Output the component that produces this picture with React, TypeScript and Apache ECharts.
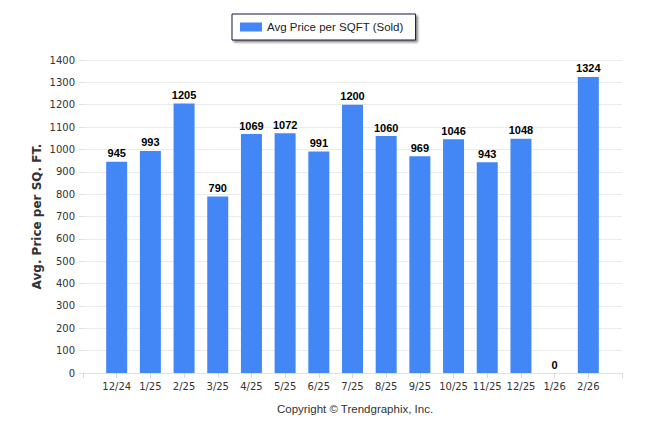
import React, { useEffect, useRef } from "react";
import * as echarts from "echarts";

const categories = ["12/24", "1/25", "2/25", "3/25", "4/25", "5/25", "6/25", "7/25", "8/25", "9/25", "10/25", "11/25", "12/25", "1/26", "2/26"];
const values = [945, 993, 1205, 790, 1069, 1072, 991, 1200, 1060, 969, 1046, 943, 1048, 0, 1324];
const seriesName = "Avg Price per SQFT (Sold)";
const yTitle = "Avg. Price per SQ. FT.";
const copyright = "Copyright \u00A9 Trendgraphix, Inc.";

export default function App() {
  const ref = useRef<HTMLDivElement>(null);
  useEffect(() => {
    document.body.style.margin = "0";
    const chart = echarts.init(ref.current!, null, { renderer: "svg" });
    const cats = ["", ...categories, ""];
    const data = [null, ...values, null];
    chart.setOption({
      animation: false,
      backgroundColor: "#fff",
      legend: {
        left: 232,
        top: 14,
        itemWidth: 22,
        itemHeight: 9,
        itemGap: 6,
        padding: [7, 12, 7, 8],
        borderColor: "#1a1a3a",
        borderWidth: 1,
        shadowColor: "rgba(0,0,0,0.45)",
        shadowOffsetX: 2,
        shadowOffsetY: 2,
        shadowBlur: 2,
        backgroundColor: "#fff",
        textStyle: { fontFamily: "Liberation Sans, Arial", fontSize: 11.5, color: "#222" },
        data: [{ name: seriesName, icon: "rect" }],
      },
      grid: { left: 83, right: 24, top: 60, bottom: 61 },
      xAxis: {
        type: "category",
        data: cats,
        boundaryGap: false,
        axisLine: { lineStyle: { color: "#e0e0e0" } },
        axisTick: { show: true, alignWithLabel: true, lineStyle: { color: "#d8d8d8" }, length: 5 },
        axisLabel: { color: "#333", fontFamily: "DejaVu Sans, Tahoma", fontSize: 10, margin: 8, interval: 0 },
      },
      yAxis: {
        type: "value",
        min: 0,
        max: 1400,
        interval: 100,
        name: yTitle,
        nameLocation: "middle",
        nameGap: 40,
        nameMoveOverlap: false,
        nameTextStyle: { fontFamily: "DejaVu Sans", fontWeight: "bold", fontSize: 12, color: "#333" },
        axisLine: { show: false },
        axisTick: { show: true, lineStyle: { color: "#e0e0e0" }, length: 4 },
        axisLabel: {
          color: "#333",
          fontFamily: "DejaVu Sans, Tahoma",
          fontSize: 10,
          margin: 8,
          formatter: (v: number) => String(v),
        },
        splitLine: { lineStyle: { color: "#ebebeb" } },
      },
      series: [
        {
          name: seriesName,
          type: "bar",
          data,
          barWidth: 21,
          itemStyle: { color: "#4287f5" },
          label: {
            show: true,
            position: "top",
            distance: 3,
            color: "#000",
            fontFamily: "Liberation Sans, Arial",
            fontWeight: "bold",
            fontSize: 11,
          },
        },
      ],
      graphic: [
        {
          type: "text",
          left: 277,
          top: 403,
          style: { text: copyright, fontFamily: "Liberation Sans, Arial", fontSize: 11.5, fill: "#333" },
        },
      ],
    });
    return () => chart.dispose();
  }, []);
  return <div ref={ref} style={{ width: 646, height: 434 }} />;
}
